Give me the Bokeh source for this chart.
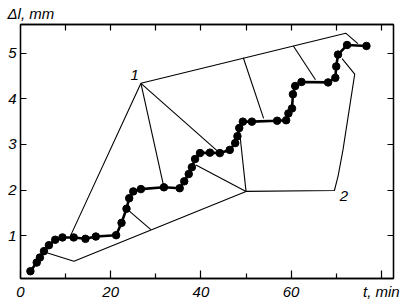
from bokeh.plotting import figure
from bokeh.models import Range1d, LinearAxis, FixedTicker, Label
from bokeh.embed import file_html
from bokeh.resources import INLINE

# main creep curve (t in min, elongation in mm)
t_curve = [2.2, 3.6, 4.3, 5.2, 6.3, 7.7, 9.3, 11.8, 14.4, 16.7, 21.2, 22.4, 23.5, 24.1,
           25.0, 26.7, 31.8, 35.3, 36.3, 37.3, 38.0, 38.7, 39.8, 42.0, 44.2, 46.4, 47.6,
           48.1, 48.5, 49.3, 51.3, 56.9, 58.9, 59.4, 60.2, 60.4, 60.9, 62.3, 68.2, 69.8,
           70.0, 70.4, 72.4, 76.7]
dl_curve = [0.22, 0.41, 0.52, 0.66, 0.79, 0.91, 0.96, 0.96, 0.93, 0.98, 1.01, 1.28, 1.59, 1.82,
            1.97, 2.02, 2.06, 2.04, 2.19, 2.35, 2.50, 2.68, 2.81, 2.82, 2.81, 2.88, 3.03,
            3.18, 3.36, 3.50, 3.50, 3.52, 3.53, 3.68, 3.79, 4.10, 4.28, 4.37, 4.36, 4.46,
            4.71, 4.97, 5.18, 5.16]

# construction lines of family 1
guide1_t = [[11.1, 26.7, 72.1, 74.8], [26.7, 31.8], [26.7, 44.2], [49.4, 53.9], [60.5, 65.4]]
guide1_dl = [[1.0, 4.34, 5.44, 5.21], [4.34, 2.06], [4.34, 2.81], [4.90, 3.57], [5.16, 4.42]]

# construction lines of family 2
guide2_t = [[6.0, 11.85, 50.0, 69.6, 70.4, 71.5, 74.1, 71.3], [24.0, 28.9], [38.9, 50.0], [48.5, 50.0]]
guide2_dl = [[0.62, 0.44, 1.97, 1.99, 2.30, 2.88, 4.54, 4.88], [1.55, 1.13], [2.55, 1.97], [3.35, 1.97]]

x_major = [0, 20, 40, 60, 80]
x_minor = [10, 30, 50, 70]
x_labels = {80: "t, min"}
x_top = [10, 20, 30, 40, 50, 60, 70, 80]
y_ticks = [1, 2, 3, 4, 5]
y_title = "\u0394l, mm"

FONT = "Liberation Sans"

p = figure(width=400, height=302, output_backend="svg", toolbar_location=None,
           x_range=Range1d(0, 82.7), y_range=Range1d(0.06, 5.63),
           min_border_left=20, min_border_right=7, min_border_top=0, min_border_bottom=23)
p.grid.visible = False
p.outline_line_color = "black"
p.outline_line_width = 1.3
p.background_fill_color = "white"
p.border_fill_color = "white"

p.title.text = y_title
p.title.align = "left"
p.title.offset = -13
p.title.standoff = 5
p.title.text_font = FONT
p.title.text_font_style = "italic"
p.title.text_font_size = "15px"
p.title.text_color = "black"

def style(ax, labels=True):
    ax.axis_line_color = "black"
    ax.axis_line_width = 1.3
    ax.major_tick_out = 0
    ax.minor_tick_out = 0
    ax.major_tick_line_color = "black"
    ax.minor_tick_line_color = "black"
    ax.major_tick_line_width = 1.2
    ax.minor_tick_line_width = 1.2
    ax.major_label_text_font = FONT
    ax.major_label_text_font_style = "italic"
    ax.major_label_text_font_size = "15px"
    ax.major_label_text_color = "black"
    if not labels:
        ax.major_label_standoff = 0

xb = p.xaxis[0]
xb.ticker = FixedTicker(ticks=x_major, minor_ticks=x_minor)
style(xb)
xb.major_label_overrides = x_labels
xb.major_tick_in = 8
xb.minor_tick_in = 5
xb.major_label_standoff = 4

yl = p.yaxis[0]
yl.ticker = FixedTicker(ticks=y_ticks)
style(yl)
yl.major_tick_in = 6
yl.minor_tick_line_color = None
yl.major_label_standoff = 4

xt = LinearAxis(ticker=FixedTicker(ticks=x_top))
style(xt, labels=False)
xt.major_label_overrides = {v: "" for v in x_top}
xt.major_tick_in = 6
xt.minor_tick_line_color = None
p.add_layout(xt, "above")

yr = LinearAxis(ticker=FixedTicker(ticks=y_ticks))
style(yr, labels=False)
yr.major_label_overrides = {v: "" for v in y_ticks}
yr.major_tick_in = 6
yr.minor_tick_line_color = None
p.add_layout(yr, "right")

p.multi_line(guide1_t, guide1_dl, line_color="black", line_width=1.1)
p.multi_line(guide2_t, guide2_dl, line_color="black", line_width=1.1)

p.line(t_curve, dl_curve, line_color="black", line_width=2.6)
p.scatter(t_curve, dl_curve, size=7.5, fill_color="black", line_color="black")

for txt, x, y in [("1", 25.3, 4.52), ("2", 71.7, 1.86)]:
    p.add_layout(Label(x=x, y=y, text=txt, text_font=FONT, text_font_style="italic",
                       text_font_size="15px", text_align="center", text_baseline="middle",
                       text_color="black"))

open("out.html", "w").write(file_html(p, INLINE))
